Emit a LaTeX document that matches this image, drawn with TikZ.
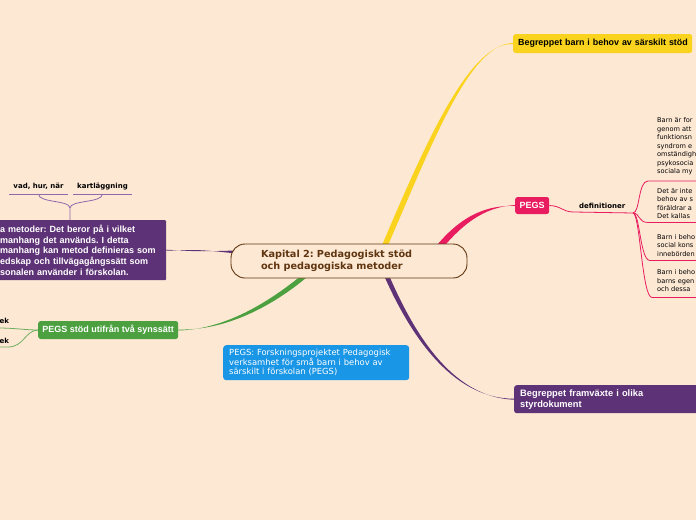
\documentclass[tikz,border=0pt]{standalone}
\usepackage{fontspec}
\setmainfont{DejaVu Sans}
\newfontfamily\lsans{Liberation Sans}
\newfontfamily\dvs{DejaVu Sans}
\frenchspacing
\definecolor{bg}{RGB}{253,232,212}
\definecolor{brownc}{RGB}{96,54,16}
\definecolor{yel}{RGB}{250,211,30}
\definecolor{pnk}{RGB}{232,28,94}
\definecolor{pur}{RGB}{94,50,118}
\definecolor{grn}{RGB}{76,160,64}
\definecolor{lgrn}{RGB}{110,175,95}
\definecolor{blu}{RGB}{26,150,230}
\definecolor{lpur}{RGB}{145,105,170}
\pgfdeclarelayer{bottomlayer}
\pgfdeclarelayer{bglayer}
\pgfsetlayers{bottomlayer,bglayer,main}
\tikzset{
  tbox/.style={rounded corners=2.5pt, font=\lsans\bfseries\fontsize{9}{10.8}\selectfont, align=left},
  subtxt/.style={font=\dvs\bfseries\fontsize{7}{8}\selectfont, inner sep=0pt},
  smalltxt/.style={font=\dvs\fontsize{6.6}{8.5}\selectfont, inner sep=0pt, align=left},
  pline/.style={draw=pnk, line width=0.8pt},
  lpline/.style={draw=lpur, line width=0.8pt},
  gline/.style={draw=lgrn, line width=0.8pt}
}
\begin{document}
\begin{tikzpicture}[x=1pt,y=-1pt]
\begin{pgfonlayer}{bottomlayer}
\fill[bg] (0,0) rectangle (696,520);
\end{pgfonlayer}
\useasboundingbox (0,0) rectangle (696,520);
\clip (0,0) rectangle (696,520);

% central topic
\node[draw=brownc, line width=0.9pt, fill=bg, rounded corners=14pt, minimum height=34pt,
      text width=176pt, inner xsep=30pt, align=left, text=brownc,
      font=\dvs\bfseries\fontsize{9.7}{12.5}\selectfont] (c) at (349,261)
      {Kapital 2: Pedagogiskt stöd\\och pedagogiska metoder};

% main topics
\node[tbox, fill=yel, text=black, text width=173pt, inner xsep=3pt, minimum height=19pt, anchor=west,
      font=\lsans\bfseries\fontsize{8.9}{10.8}\selectfont] (y) at (513,43.5)
  {\hspace*{2pt}Begreppet barn i behov av särskilt stöd};
\node[tbox, fill=pnk, text=white, minimum width=34pt, minimum height=17pt, inner sep=0pt, align=center, anchor=west] (p) at (515,205.5)
  {PEGS};
\node[tbox, fill=pur, text=white, text width=180pt, inner xsep=6pt, minimum height=28pt, anchor=north west,
      font=\lsans\bfseries\fontsize{9.3}{10.8}\selectfont] (br) at (514,385)
  {Begreppet framväxte i olika\\styrdokument};
\node[tbox, fill=grn, text=white, minimum width=140pt, minimum height=18pt, inner sep=0pt, align=center, anchor=west] (g) at (38,330)
  {PEGS stöd utifrån två synssätt};
\node[tbox, rounded corners=1pt, fill=pur, text=white, text width=162pt, inner xsep=4pt, minimum height=60pt, anchor=north west] (lp) at (-4,220)
  {a metoder: Det beror på i vilket\\manhang det används. I detta\\manhang kan metod definieras som\\edskap och tillvägagångssätt som\\sonalen använder i förskolan.};

% floating note
\node[fill=blu, rounded corners=3pt, text=white, text width=174pt, inner xsep=6pt, minimum height=35pt, anchor=north west, align=left,
      font=\dvs\fontsize{8.4}{9}\selectfont] (n) at (223,345)
  {PEGS: Forskningsprojektet Pedagogisk\\verksamhet för små barn i behov av\\särskilt i förskolan (PEGS)};

% subtopics
\node[subtxt] (vad) at (38.5,186.5) {vad, hur, när};
\node[subtxt] (kart) at (102.5,186.5) {kartläggning};
\node[subtxt, anchor=west] (ek1) at (-0.5,320.5) {ek};
\node[subtxt, anchor=west] (ek2) at (-0.5,341) {ek};
\node[subtxt, anchor=west] (def) at (579,205.5) {definitioner};

\node[smalltxt, anchor=west] (d1) at (657,146.5)
  {Barn är for\\genom att\\funktionsn\\syndrom e\\omständigh\\psykosocia\\sociala my};
\node[smalltxt, anchor=west] (d2) at (657,203.5)
  {Det är inte\\behov av s\\föräldrar a\\Det kallas};
\node[smalltxt, anchor=west] (d3) at (657,245.5)
  {Barn i beho\\social kons\\innebörden};
\node[smalltxt, anchor=west] (d4) at (657,281)
  {Barn i beho\\barns egen\\och dessa};

% coordinates
\coordinate (cY) at (383,250);
\coordinate (cP) at (437,250);
\coordinate (cB) at (385,272);
\coordinate (cG) at (307,274);
\coordinate (cL) at (236,252);
\coordinate (lpTop) at (70,220);
\coordinate (vadL) at (9,194);   \coordinate (vadR) at (68,194);
\coordinate (kartL) at (73,194); \coordinate (kartR) at (132,194);
\coordinate (defL) at (574,212); \coordinate (defR) at (633,213);
\coordinate (u1) at (648,181); \coordinate (u2) at (648,222.5);
\coordinate (u3) at (650,260.5); \coordinate (u4) at (652,297.5);
\coordinate (ek1e) at (-2,328); \coordinate (ek2e) at (8,347); \coordinate (ek2f) at (-2,347);

\begin{pgfonlayer}{bglayer}
% tapered main branches
\fill[yel] ([xshift=-3pt]cY) .. controls (426.5,140) and (470,42.1) .. ([yshift=-0.5pt]y.west)
  -- ([yshift=0.5pt]y.west) .. controls (470,43.9) and (433.5,140) .. ([xshift=3pt]cY) -- cycle;
\fill[pnk] ([shift={(-2.2,-2.2)}]cP) .. controls (462.8,212.8) and (490,205.1) .. ([yshift=-0.5pt]p.west)
  -- ([yshift=0.5pt]p.west) .. controls (490,206.9) and (467.2,217.2) .. ([shift={(2.2,2.2)}]cP) -- cycle;
\fill[pur] ([shift={(2.1,-1)}]cB) .. controls (412,329.2) and (450,397.3) .. ([yshift=-0.5pt]br.west)
  -- ([yshift=0.5pt]br.west) .. controls (450,398.7) and (408,330.8) .. ([shift={(-2.1,1)}]cB) -- cycle;
\fill[grn] ([shift={(1.5,1.8)}]cG) .. controls (271.8,307) and (225,330.8) .. ([yshift=0.5pt]g.east)
  -- ([yshift=-0.5pt]g.east) .. controls (225,329.2) and (268.2,303) .. ([shift={(-1.5,-1.8)}]cG) -- cycle;
\fill[pur] ([yshift=-1.5pt]cL) .. controls (200,249.6) .. ([yshift=-0.5pt]lp.east)
  -- ([yshift=0.5pt]lp.east) .. controls (200,251.6) .. ([yshift=1.5pt]cL) -- cycle;
\end{pgfonlayer}

% left purple subtopics
\draw[lpline] (vadL) -- (vadR);
\draw[lpline] (kartL) -- (kartR);
\draw[lpline] (lpTop) -- (70,208) .. controls (70,200) and (38.5,203) .. (38.5,194);
\draw[lpline] (70,208) .. controls (70,200) and (102.5,203) .. (102.5,194);

% green subtopics
\draw[gline] (g.west) .. controls (25,330) and (15,328) .. (ek1e);
\draw[gline] (g.west) .. controls (25,330.5) and (24,347) .. (ek2e) -- (ek2f);

% PEGS -> definitioner -> definitions
\draw[pline] (p.east) .. controls (562,206) and (562,212) .. (defL) -- (defR);
\draw[pline] (defR) .. controls (640,213) and (638,181) .. (u1) -- (700,181);
\draw[pline] (defR) .. controls (640,213) and (638,222.5) .. (u2) -- (700,222.5);
\draw[pline] (defR) .. controls (640,213) and (640,260.5) .. (u3) -- (700,260.5);
\draw[pline] (defR) .. controls (640,213) and (642,297.5) .. (u4) -- (700,297.5);
\end{tikzpicture}
\end{document}
